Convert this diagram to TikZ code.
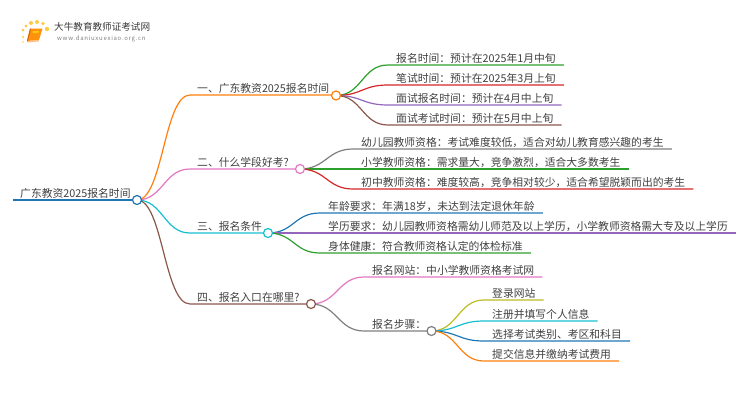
\documentclass[tikz,border=0pt]{standalone}
\usepackage{fontspec}
\setmainfont{Noto Sans CJK SC}
\usetikzlibrary{backgrounds}

\definecolor{cblue}{HTML}{1F77B4}
\definecolor{corange}{HTML}{FF7F0E}
\definecolor{cgreen}{HTML}{2CA02C}
\definecolor{cred}{HTML}{D62728}
\definecolor{cpurple}{HTML}{9467BD}
\definecolor{cbrown}{HTML}{8C564B}
\definecolor{cpink}{HTML}{E377C2}
\definecolor{cgray}{HTML}{7F7F7F}
\definecolor{colive}{HTML}{BCBD22}
\definecolor{ccyan}{HTML}{17BECF}
\definecolor{ctext}{HTML}{404040}

\tikzset{
  mapline/.style={line width=1.2pt},
  maptext/.style={anchor=south west, text=ctext, font=\fontsize{10.8pt}{11pt}\selectfont,
    inner ysep=0pt, text height=9pt, text depth=2.3pt},
  topictext/.style={maptext, inner xsep=7pt},
  leaftext/.style={maptext, inner xsep=8pt},
  knob/.style={circle, draw=#1, fill=white, line width=1.2pt, minimum size=9pt, inner sep=0pt}
}
% enlace: color, origen, destino
\newcommand{\maplink}[3]{\draw[mapline,#1] (#2.center) .. controls +(26,0) and +(-26,0) .. (#3.south west) -- (#3.south east);}

\begin{document}
\begin{tikzpicture}[x=1pt,y=-1pt]
    % Define el área de la figura
    \useasboundingbox (0,0) rectangle (750,410);

    % Logo
    \foreach \px/\py/\pr in {23/42/0.9, 23/37/1.2, 23/30/1.5, 26/26/1.7, 31/23/2, 37/22/2, 43/23.5/1.8, 47/29/2.2} {
        \fill[corange!55!yellow, opacity=0.75] (\px,\py) circle (\pr);
    }
    \fill[corange!85!yellow] (30,28.5) -- (42.5,28.5) -- (39,40) -- (27,41) -- cycle;
    \fill[corange!50!white] (27,41) -- (39,40) -- (38.5,41.5) -- (27.5,42.5) -- cycle;
    \fill[corange!80!black] (27,41) -- (30,28.5) -- (31,28.5) -- (28,41) -- cycle;
    \fill[yellow!60!corange] (33,31) -- (39,31) -- (38.4,33) -- (32.5,33) -- cycle;
    \node[anchor=west, text=black!78, inner sep=0pt, font=\fontsize{9.6pt}{10pt}\selectfont] (logotitle) at (54,27) {大牛教育教师证考试网};
    \node[anchor=west, text=black!50, inner sep=0pt, font=\fontsize{6pt}{7pt}\selectfont\addfontfeature{LetterSpace=12}] (logourl) at (57,39) {www.daniuxuexiao.org.cn};

    % Raíz y ramas
    \node[topictext] (root) at (13,200) {广东教资2025报名时间};
    \node[knob=cblue] (knobroot) at (137,200) {};

    \node[topictext] (topicA) at (190,95) {一、广东教资2025报名时间};
    \node[knob=corange] (knobA) at (336,95.5) {};
    \node[topictext] (topicB) at (190,169) {二、什么学段好考?};
    \node[knob=cpink] (knobB) at (300,169) {};
    \node[topictext] (topicC) at (190,233) {三、报名条件};
    \node[knob=ccyan] (knobC) at (268,233) {};
    \node[topictext] (topicD) at (190,304) {四、报名入口在哪里?};
    \node[knob=cbrown] (knobD) at (311,304) {};

    % Hojas
    \node[leaftext] (leafA1) at (388,65) {报名时间：预计在2025年1月中旬};
    \node[leaftext] (leafA2) at (388,85) {笔试时间：预计在2025年3月上旬};
    \node[leaftext] (leafA3) at (388,105) {面试报名时间：预计在4月中上旬};
    \node[leaftext] (leafA4) at (388,125) {面试考试时间：预计在5月中上旬};

    \node[leaftext] (leafB1) at (353,149) {幼儿园教师资格：考试难度较低，适合对幼儿教育感兴趣的考生};
    \node[leaftext] (leafB2) at (353,169) {小学教师资格：需求量大，竞争激烈，适合大多数考生};
    \node[leaftext] (leafB3) at (353,189) {初中教师资格：难度较高，竞争相对较少，适合希望脱颖而出的考生};

    \node[leaftext] (leafC1) at (320,213) {年龄要求：年满18岁，未达到法定退休年龄};
    \node[leaftext] (leafC2) at (320,233) {学历要求：幼儿园教师资格需幼儿师范及以上学历，小学教师资格需大专及以上学历};
    \node[leaftext] (leafC3) at (320,253) {身体健康：符合教师资格认定的体检标准};

    \node[leaftext] (leafD1) at (364,277) {报名网站：中小学教师资格考试网};
    \node[leaftext] (leafD2) at (364,331) {报名步骤：};
    \node[knob=cgray] (knobD2) at (431.5,331) {};

    \node[leaftext] (stepA) at (484,300) {登录网站};
    \node[leaftext] (stepB) at (484,321) {注册并填写个人信息};
    \node[leaftext] (stepC) at (484,341) {选择考试类别、考区和科目};
    \node[leaftext] (stepD) at (484,361) {提交信息并缴纳考试费用};

    % Enlaces
    \begin{scope}[on background layer]
        \draw[cblue, line width=1.8pt] (root.south west) -- (knobroot.center);
        \maplink{corange}{knobroot}{topicA}
        \maplink{cpink}{knobroot}{topicB}
        \maplink{ccyan}{knobroot}{topicC}
        \maplink{cbrown}{knobroot}{topicD}

        \maplink{cgreen}{knobA}{leafA1}
        \maplink{cred}{knobA}{leafA2}
        \maplink{cpurple}{knobA}{leafA3}
        \maplink{cbrown}{knobA}{leafA4}

        \maplink{cgray}{knobB}{leafB1}
        \maplink{cgreen}{knobB}{leafB2}
        \maplink{cred}{knobB}{leafB3}

        \maplink{cblue}{knobC}{leafC1}
        \maplink{cpurple}{knobC}{leafC2}
        \maplink{cgreen}{knobC}{leafC3}

        \maplink{cpink}{knobD}{leafD1}
        \maplink{cgray}{knobD}{leafD2}

        \maplink{colive}{knobD2}{stepA}
        \maplink{ccyan}{knobD2}{stepB}
        \maplink{cblue}{knobD2}{stepC}
        \maplink{corange}{knobD2}{stepD}
    \end{scope}
\end{tikzpicture}
\end{document}
